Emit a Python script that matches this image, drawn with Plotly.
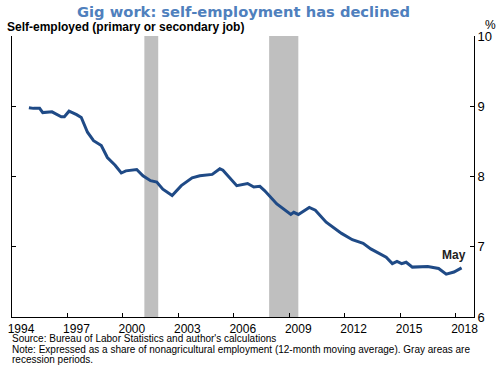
import plotly.graph_objects as go

# ---- data ----
dates = ["1994-12", "1995-03", "1995-07", "1995-09", "1996-03", "1996-09", "1996-11",
         "1997-02", "1997-07", "1997-10", "1998-02", "1998-06", "1998-11", "1999-03",
         "1999-08", "1999-12", "2000-03", "2000-10", "2001-02", "2001-07", "2001-11",
         "2002-03", "2002-09", "2003-03", "2003-10", "2004-03", "2004-11", "2005-04",
         "2005-06", "2005-10", "2006-03", "2006-10", "2007-02", "2007-06", "2007-09",
         "2008-05", "2008-08", "2009-02", "2009-04", "2009-07", "2010-02", "2010-06",
         "2011-01", "2011-07", "2011-11", "2012-06", "2013-01", "2013-06", "2014-01",
         "2014-04", "2014-08", "2014-11", "2015-02", "2015-05", "2015-09", "2016-05",
         "2016-07", "2017-02", "2017-07", "2017-12", "2018-05"]
self_employed = [8.98, 8.97, 8.97, 8.91, 8.92, 8.85, 8.85,
                 8.93, 8.88, 8.84, 8.63, 8.51, 8.44, 8.27,
                 8.16, 8.05, 8.08, 8.10, 8.01, 7.94, 7.92,
                 7.82, 7.73, 7.87, 7.98, 8.01, 8.03, 8.11,
                 8.09, 7.99, 7.87, 7.90, 7.85, 7.86, 7.80,
                 7.61, 7.56, 7.46, 7.49, 7.46, 7.56, 7.52,
                 7.35, 7.26, 7.19, 7.10, 7.05, 6.97, 6.88,
                 6.85, 6.76, 6.79, 6.76, 6.78, 6.71, 6.71,
                 6.72, 6.69, 6.61, 6.64, 6.70]
recession_start = ["2001-03-01", "2007-12-01"]
recession_end = ["2001-11-30", "2009-06-30"]
tick_years = [1994, 1997, 2000, 2003, 2006, 2009, 2012, 2015, 2018]
y_ticks = [6, 7, 8, 9, 10]

fig = go.Figure()

for s, e in zip(recession_start, recession_end):
    fig.add_vrect(x0=s, x1=e, fillcolor="#BFBFBF", line_width=0, layer="below", opacity=1)

fig.add_trace(go.Scatter(x=dates, y=self_employed, mode="lines",
                         line=dict(color="#1F4A86", width=3), hoverinfo="skip",
                         showlegend=False))

fig.add_annotation(x=dates[-1], y=self_employed[-1], text="<b>May</b>", showarrow=False,
                   xanchor="center", yanchor="bottom", xshift=-8, yshift=4,
                   font=dict(family="Liberation Sans, Arial", size=12, color="#222"))

fig.update_layout(
    width=500, height=365,
    margin=dict(l=12, r=26, t=36, b=48, autoexpand=False),
    paper_bgcolor="white", plot_bgcolor="white",
    font=dict(family="Liberation Sans, Arial", size=12, color="black"),
    showlegend=False,
    xaxis=dict(
        range=["1994-01-01", "2019-01-01"],
        tickvals=[f"{y}-01-01" for y in tick_years],
        ticktext=[str(y) for y in tick_years],
        ticklabelshift=9, ticklabelstandoff=1,
        ticks="inside", ticklen=4, tickcolor="black",
        showline=True, linecolor="black", linewidth=1,
        showgrid=False, zeroline=False, automargin=False,
        tickfont=dict(size=12, color="black"),
    ),
    yaxis=dict(
        side="right", range=[6, 10], tickvals=y_ticks,
        ticks="inside", ticklen=4, tickcolor="black",
        showline=True, linecolor="black", linewidth=1, mirror="ticks",
        showgrid=False, zeroline=False, automargin=False,
        tickfont=dict(size=13, color="black"),
    ),
)

fig.add_annotation(xref="paper", yref="paper", x=0.5, y=1, yshift=25,
                   text="<b>Gig work: self-employment has declined</b>", showarrow=False,
                   xanchor="center", yanchor="middle",
                   font=dict(family="DejaVu Sans, Verdana", size=14.7, color="#4F80BD"))
fig.add_annotation(xref="paper", yref="paper", x=-0.015, y=1, yshift=9,
                   text="<b>Self-employed (primary or secondary job)</b>", showarrow=False,
                   xanchor="left", yanchor="middle",
                   font=dict(size=12, color="black"))
fig.add_annotation(xref="paper", yref="paper", x=1, y=1, xshift=16, yshift=11,
                   text="%", showarrow=False, xanchor="center", yanchor="middle",
                   font=dict(size=12, color="black"))
fig.add_annotation(xref="paper", yref="paper", x=-0.005, y=0, yshift=-21.5,
                   text="Source: Bureau of Labor Statistics and author's calculations",
                   showarrow=False, xanchor="left", yanchor="middle",
                   font=dict(size=10, color="black"))
fig.add_annotation(xref="paper", yref="paper", x=-0.005, y=0, yshift=-32,
                   text="Note: Expressed as a share of nonagricultural employment (12-month moving average). Gray areas are",
                   showarrow=False, xanchor="left", yanchor="middle", align="left",
                   font=dict(size=10, color="black"))
fig.add_annotation(xref="paper", yref="paper", x=-0.005, y=0, yshift=-42,
                   text="recession periods.",
                   showarrow=False, xanchor="left", yanchor="middle", align="left",
                   font=dict(size=10, color="black"))

fig.write_html("out.html", config={"displayModeBar": False},
               post_script="document.body.style.margin='0';document.body.style.overflow='hidden';")
